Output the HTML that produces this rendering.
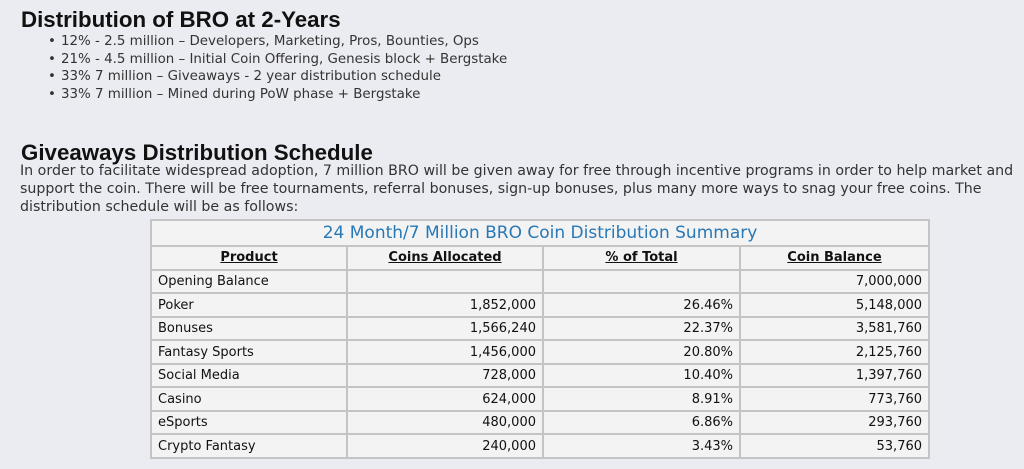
<!DOCTYPE html>
<html><head><meta charset="utf-8"><style>
html,body{margin:0;padding:0;}
body{width:1024px;height:469px;background:#ebecf1;position:relative;overflow:hidden;font-family:"DejaVu Sans","Liberation Sans",sans-serif;}
.h{position:absolute;left:21px;font-family:"Liberation Sans",sans-serif;font-weight:bold;font-size:22.3px;color:#111;white-space:nowrap;}
.li{position:absolute;left:48px;font-size:13.4px;color:#333;white-space:nowrap;}
.li:before{content:"•";display:inline-block;width:13px;}
.p{position:absolute;left:20px;font-size:14.2px;color:#333;white-space:nowrap;}
table{position:absolute;left:150px;top:219px;width:778px;border-collapse:collapse;background:#f3f3f3;font-family:"DejaVu Sans",sans-serif;font-size:13px;color:#111;table-layout:fixed;}
tr{height:23.5px;}
td{border:2px solid #c4c4c4;padding:2px 6px 0 6px;line-height:18px;}
td.r{text-align:right;}
th{border:2px solid #c4c4c4;font-weight:bold;text-decoration:underline;font-size:13px;padding:0;}
tr.tt{height:26px;}
.t{color:#2878b5;font-size:17px;font-weight:normal;text-decoration:none;}
</style></head><body>
<div class="h" style="top:7px">Distribution of BRO at 2-Years</div>
<div class="li" style="top:34px">12% - 2.5 million – Developers, Marketing, Pros, Bounties, Ops</div>
<div class="li" style="top:51.5px">21% - 4.5 million – Initial Coin Offering, Genesis block + Bergstake</div>
<div class="li" style="top:69px">33% 7 million – Giveaways - 2 year distribution schedule</div>
<div class="li" style="top:86.5px">33% 7 million – Mined during PoW phase + Bergstake</div>
<div class="h" style="top:140px">Giveaways Distribution Schedule</div>
<div class="p" style="top:163px">In order to facilitate widespread adoption, 7 million BRO will be given away for free through incentive programs in order to help market and</div>
<div class="p" style="top:181px">support the coin. There will be free tournaments, referral bonuses, sign-up bonuses, plus many more ways to snag your free coins. The</div>
<div class="p" style="top:199px">distribution schedule will be as follows:</div>
<table>
<colgroup><col style="width:196px"><col style="width:196px"><col style="width:197px"><col style="width:189px"></colgroup>
<tr class="tt"><th colspan="4" class="t">24 Month/7 Million BRO Coin Distribution Summary</th></tr>
<tr><th>Product</th><th>Coins Allocated</th><th>% of Total</th><th>Coin Balance</th></tr>
<tr><td>Opening Balance</td><td></td><td></td><td class="r">7,000,000</td></tr>
<tr><td>Poker</td><td class="r">1,852,000</td><td class="r">26.46%</td><td class="r">5,148,000</td></tr>
<tr><td>Bonuses</td><td class="r">1,566,240</td><td class="r">22.37%</td><td class="r">3,581,760</td></tr>
<tr><td>Fantasy Sports</td><td class="r">1,456,000</td><td class="r">20.80%</td><td class="r">2,125,760</td></tr>
<tr><td>Social Media</td><td class="r">728,000</td><td class="r">10.40%</td><td class="r">1,397,760</td></tr>
<tr><td>Casino</td><td class="r">624,000</td><td class="r">8.91%</td><td class="r">773,760</td></tr>
<tr><td>eSports</td><td class="r">480,000</td><td class="r">6.86%</td><td class="r">293,760</td></tr>
<tr><td>Crypto Fantasy</td><td class="r">240,000</td><td class="r">3.43%</td><td class="r">53,760</td></tr>
</table>
</body></html>
